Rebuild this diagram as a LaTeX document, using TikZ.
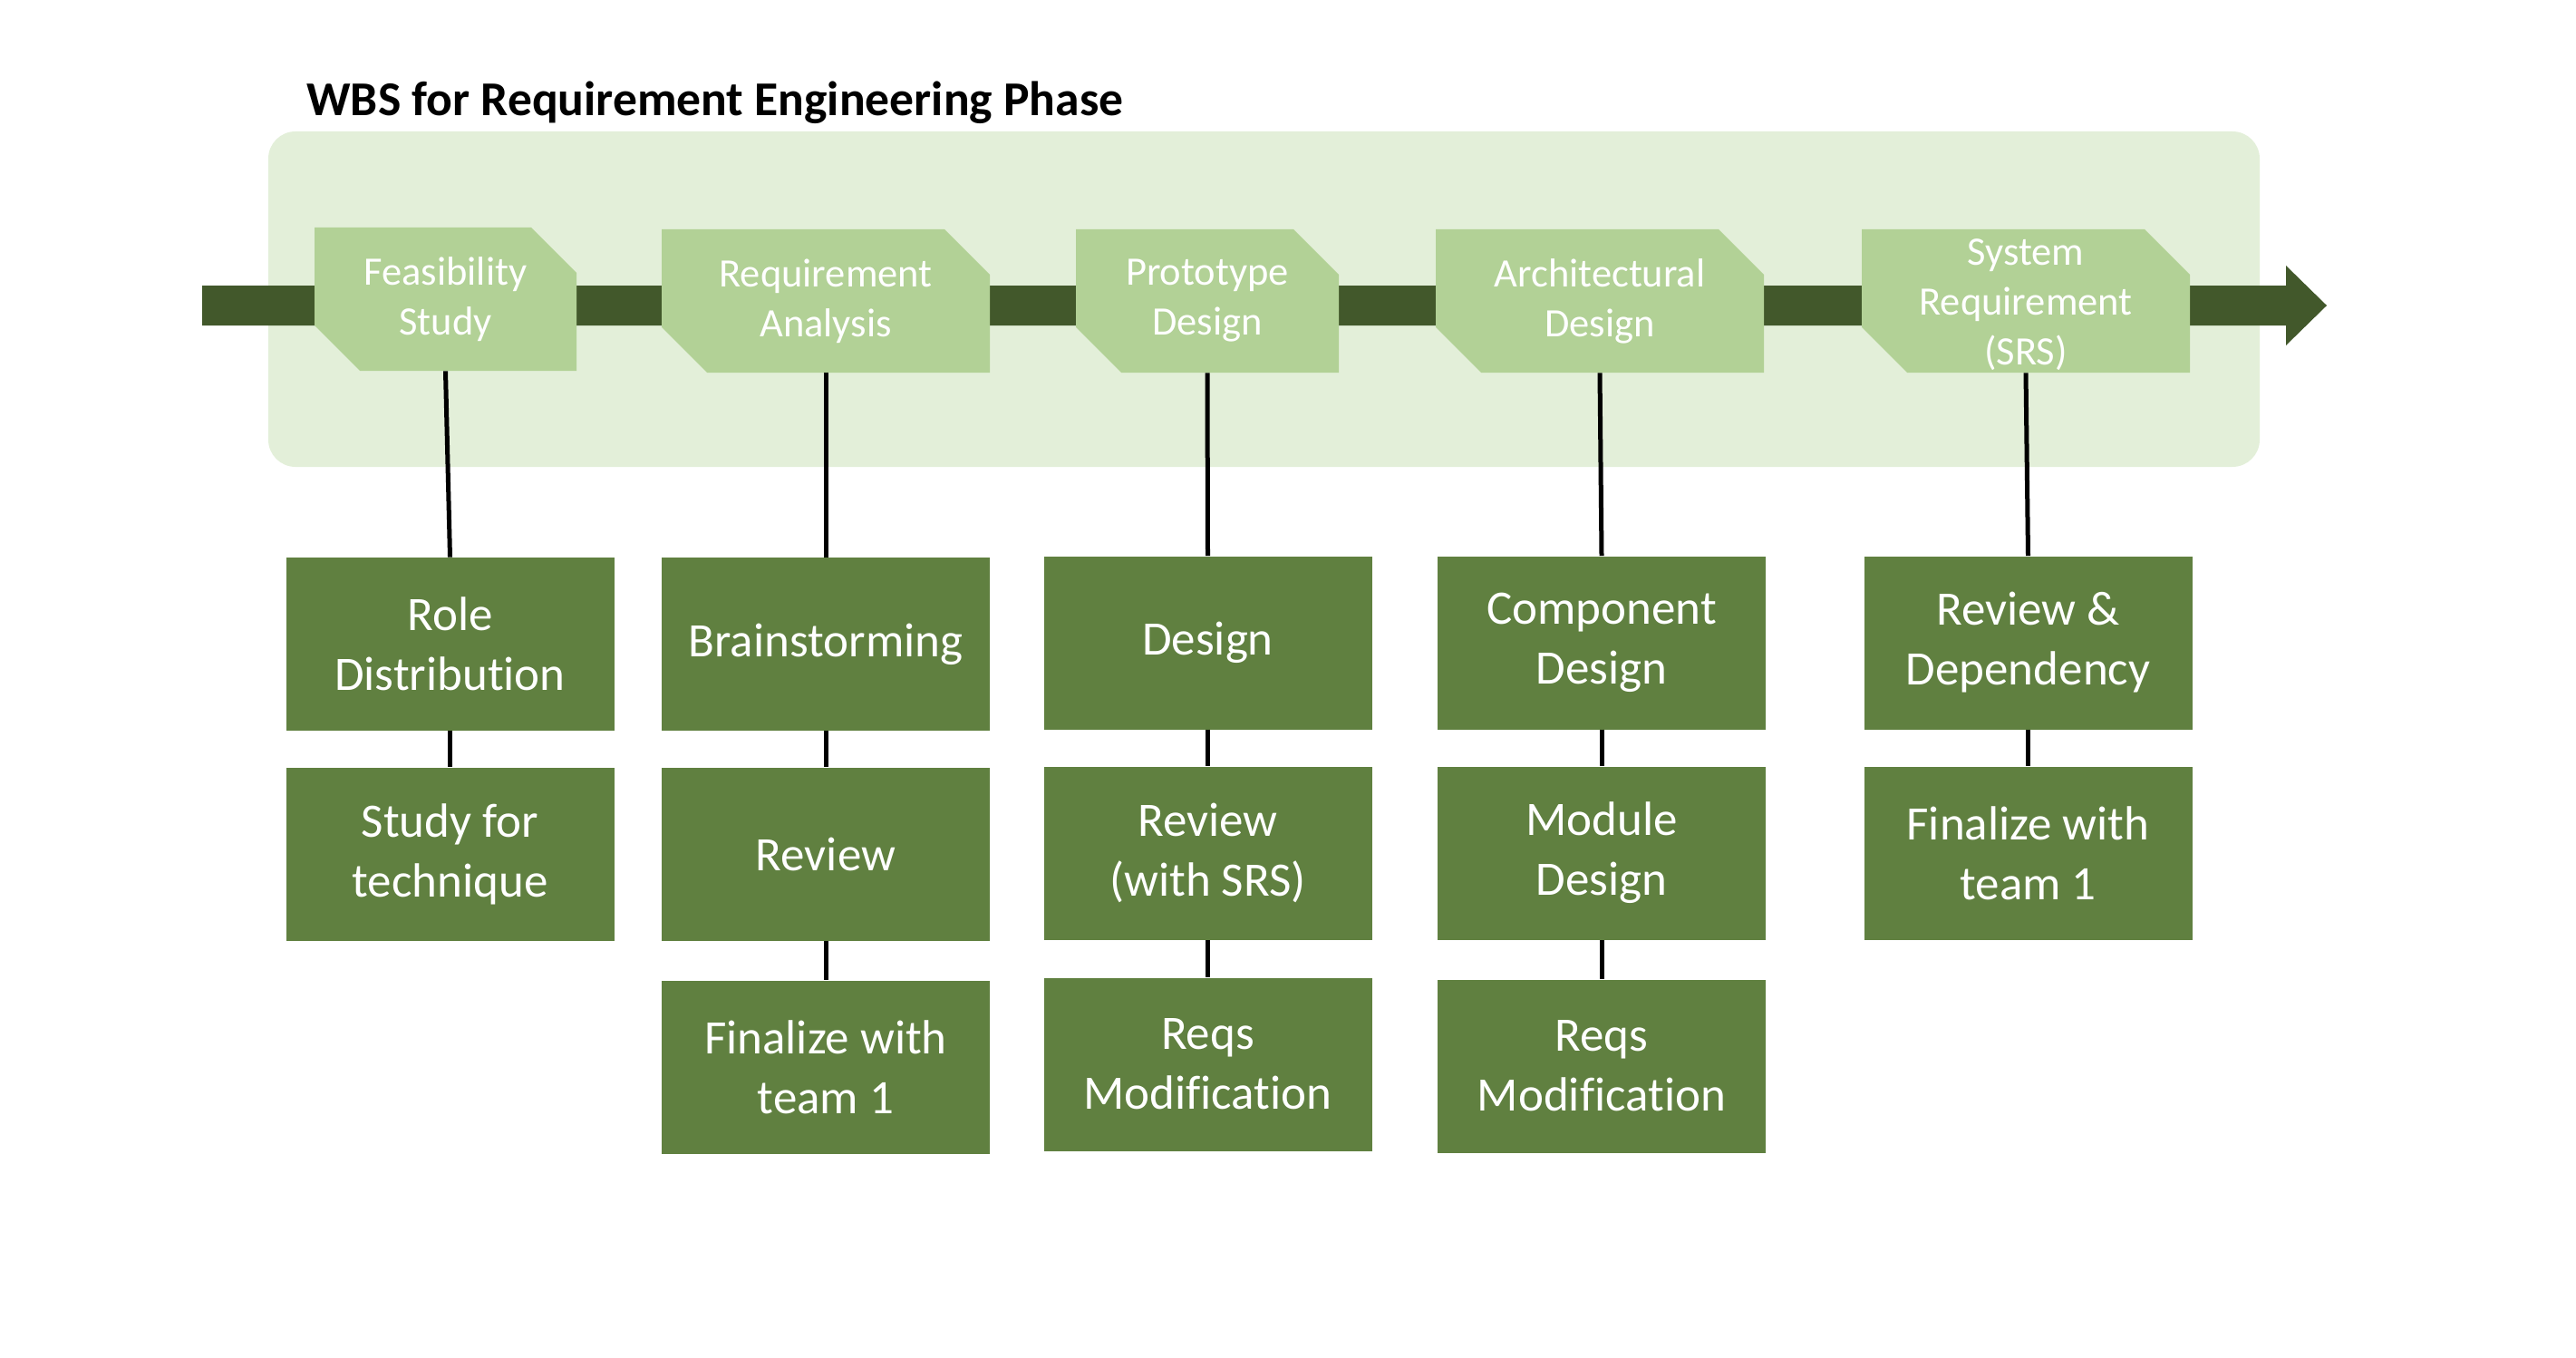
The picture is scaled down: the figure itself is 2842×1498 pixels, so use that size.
\documentclass[tikz,border=0pt]{standalone}
\usepackage{fontspec}
\setmainfont{Carlito}[Ligatures={NoCommon}]
\usetikzlibrary{shapes.misc}
\definecolor{bglight}{HTML}{E3EFD9}
\definecolor{phasefill}{HTML}{B2D196}
\definecolor{taskfill}{HTML}{608040}
\definecolor{arrowdark}{HTML}{42582B}
\begin{document}
\begin{tikzpicture}[x=0.5pt,y=-0.5pt,
 phasebox/.style={chamfered rectangle, chamfered rectangle corners={north east,south west},
   chamfered rectangle xsep=12pt, chamfered rectangle ysep=13pt, fill=phasefill, text=white,
   minimum height=79pt, inner sep=0pt, align=center, font=\fontsize{22.25}{27.5}\selectfont},
 phasetext/.style={text=white, inner sep=0pt, align=center, font=\fontsize{22.25}{27.5}\selectfont},
 taskbox/.style={rectangle, fill=taskfill, text=white, minimum width=181pt, minimum height=95.5pt,
   inner sep=0pt, align=center, font=\fontsize{26.5}{33}\selectfont},
 link/.style={line width=2.5pt, black}]
\useasboundingbox (0,0) rectangle (2842,1498);
% background panel
\fill[bglight, rounded corners=15pt] (296,145) rectangle (2493,515);
% title
\node[anchor=base west, font=\bfseries\fontsize{26.8}{32}\selectfont, inner sep=0pt] (title) at (338,128) {WBS for Requirement Engineering Phase};
% timeline arrow
\fill[arrowdark] (223,315) -- (2522,315) -- (2522,293) -- (2567,337) -- (2522,381) -- (2522,359) -- (223,359) -- cycle;
% phases
\node[phasebox, minimum width=144.5pt] (p1) at (491.5,330) {Feasibility\\Study};
\node[phasebox, minimum width=181pt] (p2) at (911,332) {Requirement\\Analysis};
\node[phasebox, minimum width=145pt] (p3) at (1332,332) {Prototype\\Design};
\node[phasebox, minimum width=181pt] (p4) at (1765,332) {Architectural\\Design};
\node[phasebox, minimum width=181pt] (p5) at (2235,332) {\phantom{Requirement}\\\phantom{Design}};
\node[phasetext] (p5t) at (2235,336) {System\\Requirement\\(SRS)};
% tasks
\node[taskbox] (a1) at (496.5,710.5) {Role\\Distribution};
\node[taskbox] (a2) at (496.5,942) {Study for\\technique};
\node[taskbox] (b1) at (911,710.5) {Brainstorming};
\node[taskbox] (b2) at (911,942) {Review};
\node[taskbox] (b3) at (911,1177) {Finalize with\\team 1};
\node[taskbox] (c1) at (1332.5,709) {Design};
\node[taskbox] (c2) at (1332.5,941) {Review\\(with SRS)};
\node[taskbox] (c3) at (1332.5,1174) {Reqs\\Modification};
\node[taskbox] (d1) at (1767,709) {Component\\Design};
\node[taskbox] (d2) at (1767,941) {Module\\Design};
\node[taskbox] (d3) at (1767,1176) {Reqs\\Modification};
\node[taskbox] (e1) at (2237.5,709) {Review \&\\Dependency};
\node[taskbox] (e2) at (2237.5,941) {Finalize with\\team 1};
% connectors
\draw[link] (p1.south) -- (a1.north);
\draw[link] (a1.south) -- (a2.north);
\draw[link] (p2.south) -- (b1.north);
\draw[link] (b1.south) -- (b2.north);
\draw[link] (b2.south) -- (b3.north);
\draw[link] (p3.south) -- (c1.north);
\draw[link] (c1.south) -- (c2.north);
\draw[link] (c2.south) -- (c3.north);
\draw[link] (p4.south) -- (d1.north);
\draw[link] (d1.south) -- (d2.north);
\draw[link] (d2.south) -- (d3.north);
\draw[link] (p5.south) -- (e1.north);
\draw[link] (e1.south) -- (e2.north);
\end{tikzpicture}
\end{document}
